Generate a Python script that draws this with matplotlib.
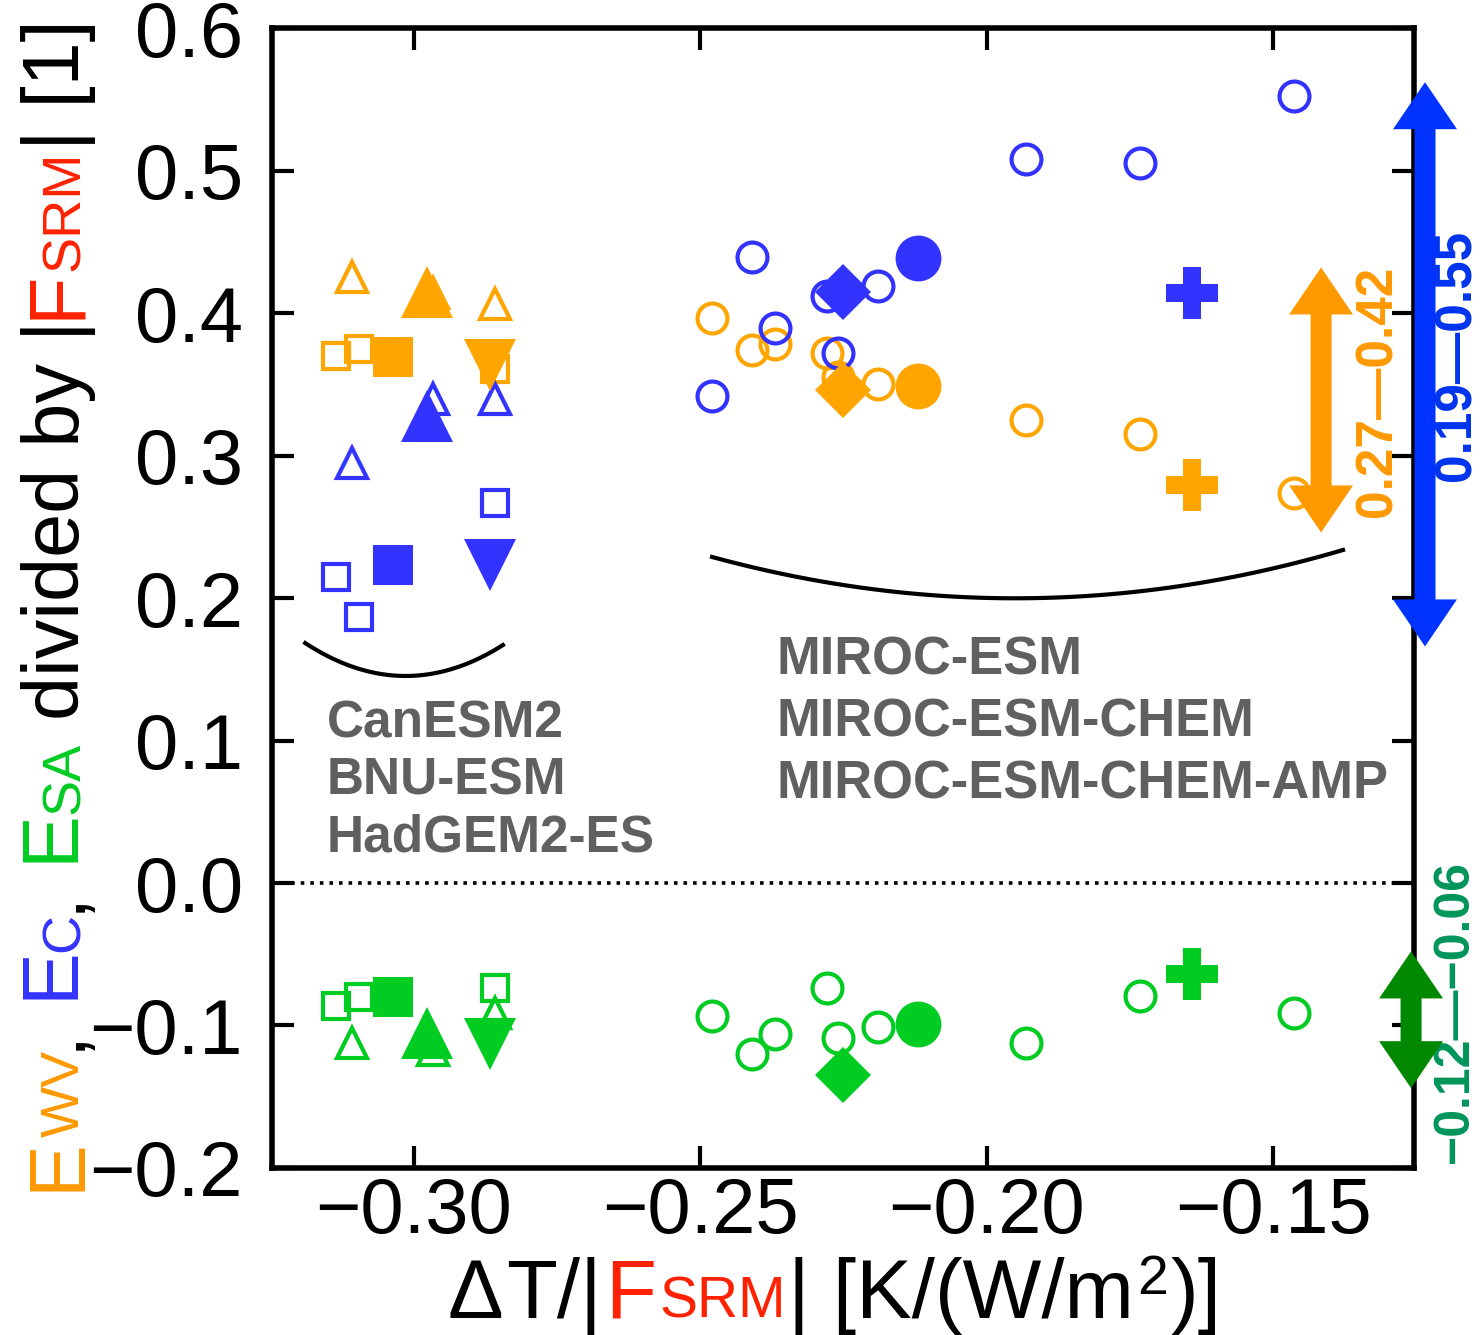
import numpy as np
import matplotlib
matplotlib.use("Agg")
import matplotlib.pyplot as plt
from matplotlib.patches import Polygon
from matplotlib.transforms import IdentityTransform, blended_transform_factory

plt.rcParams['font.family'] = ['Liberation Sans', 'DejaVu Sans']

# ---- data: x = dT/|F_SRM|, y = E_WV (orange), E_C (blue), E_SA (green) ----
# CanESM2 (squares), members + ensemble mean
can_x = [-0.3135, -0.3096, -0.2858]
can_wv = [0.370, 0.375, 0.361]
can_c = [0.215, 0.187, 0.267]
can_sa = [-0.086, -0.080, -0.074]
can_mean_x = -0.3036
can_mean = [0.369, 0.223, -0.080]

# BNU-ESM (up triangles)
bnu_x = [-0.3107, -0.2966, -0.2858]
bnu_wv = [0.425, 0.414, 0.406]
bnu_c = [0.295, 0.340, 0.340]
bnu_sa = [-0.112, -0.117, -0.091]
bnu_mean_x = -0.2976
bnu_mean = [0.415, 0.328, -0.105]

# HadGEM2-ES (down triangle, single run)
had_x = -0.2866
had_vals = [0.3635, 0.223, -0.113]

# MIROC-ESM (circles), members + ensemble mean
miroc_x = [-0.2479, -0.2409, -0.2369, -0.2278, -0.2259, -0.2189, -0.1931, -0.1732, -0.1463]
miroc_wv = [0.3965, 0.374, 0.378, 0.372, 0.355, 0.350, 0.325, 0.315, 0.274]
miroc_c = [0.342, 0.439, 0.3895, 0.412, 0.372, 0.419, 0.508, 0.505, 0.552]
miroc_sa = [-0.093, -0.120, -0.106, -0.074, -0.109, -0.101, -0.112, -0.079, -0.091]
miroc_mean_x = -0.2120
miroc_mean = [0.349, 0.4386, -0.099]

# MIROC-ESM-CHEM (diamond), MIROC-ESM-CHEM-AMP (plus)
chem_x = -0.2250
chem_vals = [0.346, 0.4147, -0.135]
amp_x = -0.1641
amp_vals = [0.279, 0.414, -0.064]

# ranges shown by the arrows
range_wv = [0.27, 0.42]
range_c = [0.19, 0.55]
range_sa = [-0.12, -0.06]

left_models = ['CanESM2', 'BNU-ESM', 'HadGEM2-ES']
right_models = ['MIROC-ESM', 'MIROC-ESM-CHEM', 'MIROC-ESM-CHEM-AMP']

orange = '#FFA500'
blue = '#3333FF'
green = '#00CC22'
cols = [orange, blue, green]

fig = plt.figure(figsize=(14.83, 13.35), dpi=100)
ax = fig.add_axes([0.1834, 0.1251, 0.7701, 0.8539])
ax.set_xlim(-0.3247, -0.1254)
ax.set_ylim(-0.2, 0.6)


def open_pts(x, ys, marker, ms):
    for y, c in zip(ys, cols):
        ax.plot(x, y, ls='none', marker=marker, ms=ms, mfc='none', mec=c, mew=3, zorder=3)


def filled_pts(x, vals, marker, ms):
    for v, c in zip(vals, cols):
        ax.plot(x, v, ls='none', marker=marker, ms=ms, mfc=c, mec=c, mew=0, zorder=4)


filled_pts(had_x, had_vals, 'v', 37)
open_pts(can_x, [can_wv, can_c, can_sa], 's', 19)
filled_pts(can_mean_x, can_mean, 's', 29)
open_pts(bnu_x, [bnu_wv, bnu_c, bnu_sa], '^', 21)
filled_pts(bnu_mean_x, bnu_mean, '^', 37)

filled_pts(chem_x, chem_vals, 'D', 29)
filled_pts(amp_x, amp_vals, 'P', 38)
open_pts(miroc_x, [miroc_wv, miroc_c, miroc_sa], 'o', 21.5)
filled_pts(miroc_mean_x, miroc_mean, 'o', 33)

ax.axhline(0, color='black', ls=':', lw=2.6, zorder=1)

# brackets under the two model groups
for pts in ([(-0.3189, 0.1684), (-0.3016, 0.1453), (-0.2844, 0.1670)],
            [(-0.2479, 0.2288), (-0.1907, 0.2000), (-0.1378, 0.2337)]):
    px, py = zip(*pts)
    cf = np.polyfit(px, py, 2)
    xx = np.linspace(px[0], px[-1], 100)
    ax.plot(xx, np.polyval(cf, xx), color='black', lw=3, zorder=2)

# model names
grey = '#606060'
for i, name in enumerate(left_models):
    ax.text(-0.3151, 0.1018 - i * 0.0400, name, color=grey, fontsize=37,
            fontweight='bold', va='baseline', ha='left')
for i, name in enumerate(right_models):
    ax.text(-0.2367, 0.1460 - i * 0.0432, name, color=grey, fontsize=37.8,
            fontweight='bold', va='baseline', ha='left')

# range arrows and labels
btr = blended_transform_factory(ax.transAxes, ax.transData)
arrows = [(range_wv, 0.9186, 0.9685, '#FF9900', '#FF9900', '0.27\u20140.42', 37),
          (range_c, 1.0096, 1.0377, '#0033FF', '#0033EE', '0.19\u20140.55', 37),
          (range_sa, 0.9974, 1.0359, '#008800', '#00955A', '\u22120.12\u2014\u22120.06', 36)]
sw, hw, hl = 0.0092, 0.028, 0.033   # half shaft width, half head width, head length
for rng, xa, xt, acol, tcol, label, fs in arrows:
    lo, hi = rng[0] - 0.024, rng[1] + 0.012
    verts = [(xa, lo), (xa + hw, lo + hl), (xa + sw, lo + hl), (xa + sw, hi - hl),
             (xa + hw, hi - hl), (xa, hi), (xa - hw, hi - hl), (xa - sw, hi - hl),
             (xa - sw, lo + hl), (xa - hw, lo + hl)]
    ax.add_patch(Polygon(verts, closed=True, facecolor=acol, edgecolor='none',
                         transform=btr, clip_on=False, zorder=5))
    ax.text(xt, 0.5 * (rng[0] + rng[1]), label, transform=btr, rotation=90,
            ha='center', va='center', color=tcol, fontsize=fs, fontweight='bold',
            clip_on=False)

# axes styling
ax.set_xticks([-0.30, -0.25, -0.20, -0.15])
ax.set_xticklabels(['\u22120.30', '\u22120.25', '\u22120.20', '\u22120.15'])
ax.set_yticks([-0.2, -0.1, 0.0, 0.1, 0.2, 0.3, 0.4, 0.5, 0.6])
ax.set_yticklabels(['\u22120.2', '\u22120.1', '0.0', '0.1', '0.2', '0.3', '0.4', '0.5', '0.6'])
ax.tick_params(direction='in', top=True, right=True, length=16, width=3, labelsize=56)
ax.tick_params(axis='y', pad=21)
ax.tick_params(axis='x', pad=6)
for sp in ax.spines.values():
    sp.set_linewidth(4)

# multi-coloured axis labels
fig.canvas.draw()
rend = fig.canvas.get_renderer()
ident = IdentityTransform()


def chain(pieces, x0, y0, vertical, gap):
    texts, pos = [], 0.0
    for s, size, color, rise in pieces:
        if vertical:
            t = fig.text(x0 - rise, y0 + pos, s, rotation=90, rotation_mode='anchor',
                         ha='left', va='baseline', fontsize=size, color=color,
                         transform=ident)
            pos += t.get_window_extent(rend).height + gap * size
        else:
            t = fig.text(x0 + pos, y0 + rise, s, ha='left', va='baseline', fontsize=size,
                         color=color, transform=ident)
            pos += t.get_window_extent(rend).width + gap * size
        texts.append(t)
    return texts, pos


red = '#FF2200'
ylab = [('E', 57, '#FF9900', 0), ('WV', 39, '#FF9900', 0), (',', 57, 'black', 0),
        (' E', 57, blue, 0), ('C', 39, blue, 0), (',', 57, 'black', 0),
        (' E', 57, green, 0), ('SA', 39, green, 0), (' divided by |', 57, 'black', 0),
        ('F', 57, red, 0), ('SRM', 39, red, 0), ('| [1]', 57, 'black', 0)]
texts, total = chain(ylab, 79, 0, True, 0.01)
# centre the label between y=145 and y=1316 px (from the bottom)
for t in texts:
    x, y = t.get_position()
    t.set_position((x, y + 145 + (1171 - total) / 2))

xlab = [('\u0394', 60, 'black', 0), ('T/|', 60, 'black', 0), ('F', 60, red, 0),
        ('SRM', 41, red, 0), ('| [K/(W/m', 60, 'black', 0), ('2', 40, 'black', 24),
        (')]', 60, 'black', 0)]
texts, total = chain(xlab, 0, 17, False, 0.055)
shift = 836 - total / 2
for t in texts:
    x, y = t.get_position()
    t.set_position((x + shift, y))

fig.savefig('out.png', dpi=100)
